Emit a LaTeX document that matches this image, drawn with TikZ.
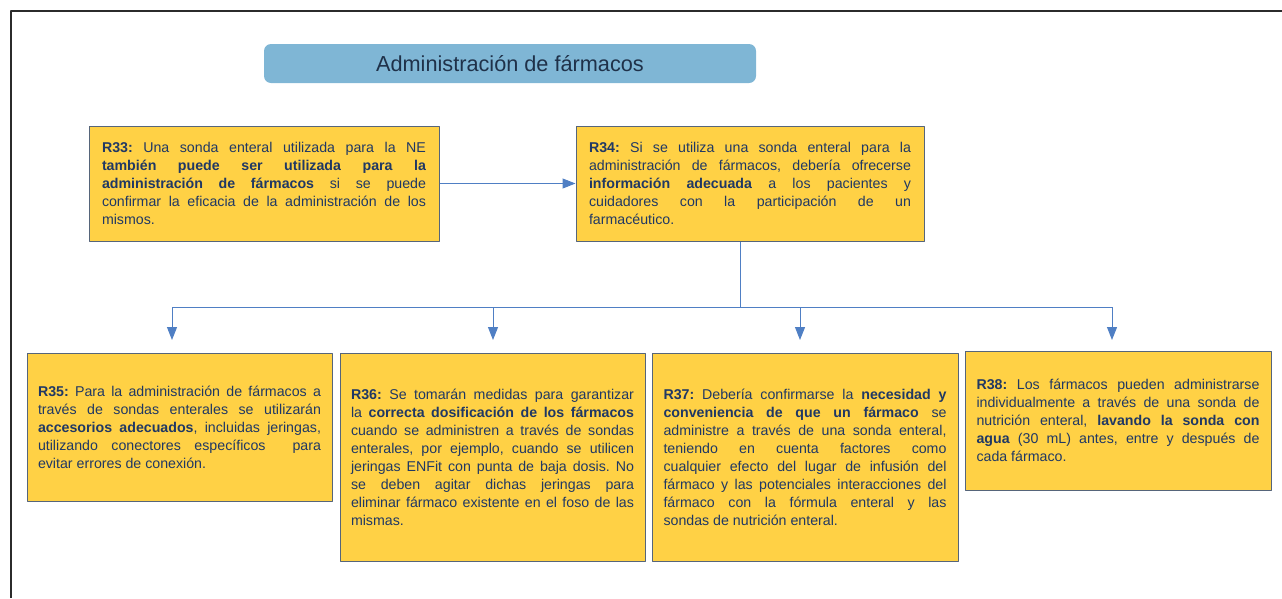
\documentclass[tikz,border=0pt]{standalone}
\usepackage{fontspec}
\setmainfont{Liberation Sans}
\usetikzlibrary{arrows.meta}
\definecolor{amarillo}{HTML}{FFD145}
\definecolor{azultitulo}{HTML}{7FB6D5}
\definecolor{azultexto}{HTML}{203864}
\definecolor{borde}{HTML}{56657A}
\definecolor{flecha}{HTML}{4F7FC4}
\definecolor{marco}{HTML}{2B2B2B}
\hyphenpenalty=10000
\exhyphenpenalty=10000
\tolerance=10000
\frenchspacing
\begin{document}
\begin{tikzpicture}[x=1pt,y=-1pt,line join=round,>={Triangle[length=13pt,width=10pt]},
	font=\fontsize{14.2}{18}\selectfont,text=azultexto,
	caja/.style={draw=borde,line width=1pt,fill=amarillo,align=justify,inner xsep=0pt,inner ysep=0pt},
	flechita/.style={->,draw=flecha,fill=flecha,line width=1pt}]
	
	\useasboundingbox (0,0) rectangle (1282,598);
	\draw[marco,line width=2.5pt] (11,598)--(11,11)--(1282,11);
	
	\node[fill=azultitulo,rounded corners=7pt,minimum width=492,minimum height=39,font=\fontsize{21.7}{24}\selectfont,text=azultexto!80!azultitulo!60!black] (titulo) at (510,63.5) {Administración de fármacos};
	
	\node[caja,text width=324,minimum width=350,minimum height=115] (r33) at (264,183.5)
	{\textbf{R33:} Una sonda enteral utilizada para la NE\linebreak \textbf{también puede ser utilizada para la\linebreak administración de fármacos} si se puede\linebreak confirmar la eficacia de la administración de los\linebreak mismos.};
	\node[caja,text width=322,minimum width=348,minimum height=115] (r34) at (750,183.5)
	{\textbf{R34:} Si se utiliza una sonda enteral para la\linebreak administración de fármacos, debería ofrecerse\linebreak \textbf{información adecuada} a los pacientes y\linebreak cuidadores con la participación de un\linebreak farmacéutico.};
	
	\node[caja,text width=283,minimum width=305,minimum height=148] (r35) at (179.5,427)
	{\textbf{R35:} Para la administración de fármacos a\linebreak través de sondas enterales se utilizarán\linebreak \textbf{accesorios adecuados}, incluidas jeringas,\linebreak utilizando conectores específicos\ \ para\linebreak evitar errores de conexión.};
	\node[caja,text width=283,minimum width=305,minimum height=208] (r36) at (492.5,457)
	{\textbf{R36:} Se tomarán medidas para garantizar\linebreak la \textbf{correcta dosificación de los fármacos}\linebreak cuando se administren a través de sondas\linebreak enterales, por ejemplo, cuando se utilicen\linebreak jeringas ENFit con punta de baja dosis. No\linebreak se deben agitar dichas jeringas para\linebreak eliminar fármaco existente en el foso de las\linebreak mismas.};
	\node[caja,text width=283,minimum width=306,minimum height=208] (r37) at (805,457)
	{\textbf{R37:} Debería confirmarse la \textbf{necesidad y\linebreak conveniencia de que un fármaco} se\linebreak administre a través de una sonda enteral,\linebreak teniendo en cuenta factores como\linebreak cualquier efecto del lugar de infusión del\linebreak fármaco y las potenciales interacciones del\linebreak fármaco con la fórmula enteral y las\linebreak sondas de nutrición enteral.};
	\node[caja,text width=283,minimum width=306,minimum height=139] (r38) at (1118,420.5)
	{\textbf{R38:} Los fármacos pueden administrarse\linebreak individualmente a través de una sonda de\linebreak nutrición enteral, \textbf{lavando la sonda con\linebreak agua} (30 mL) antes, entre y después de\linebreak cada fármaco.};
	
	\draw[flechita] (r33.east)--(r34.west);
	\coordinate (salida) at ([xshift=-10]r34.south);
	\coordinate (eje) at (0,307);
	\coordinate (nudo) at (salida|-eje);
	\draw[flecha,line width=1pt] (salida)--(nudo);
	\foreach \x/\n in {172/35,493/36,800/37,1112/38}
	{\coordinate (a\n) at (\x,307);
	\coordinate (b\n) at (\x,340);
	\draw[flechita] (a\n)--(b\n);}
	\draw[flecha,line width=1pt] (a35)--(a38);
\end{tikzpicture}
\end{document}
